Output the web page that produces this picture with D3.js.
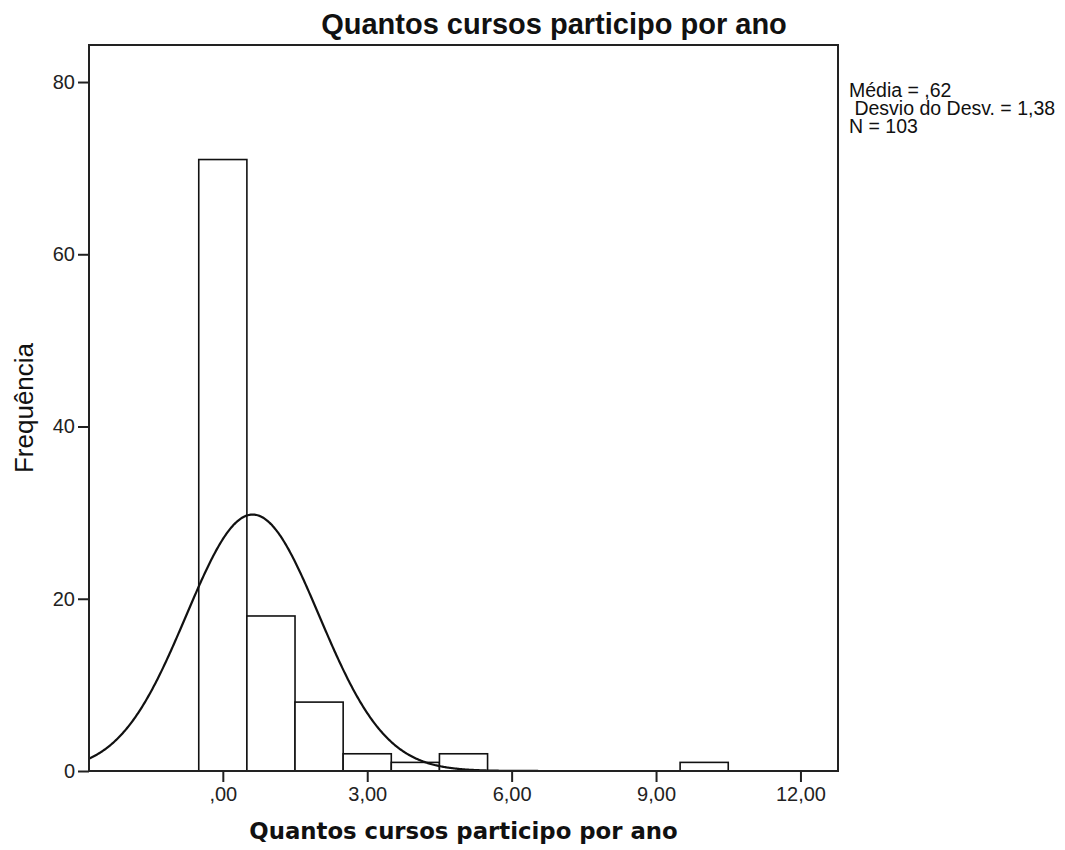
<!doctype html>
<html>
<head>
<style>
    body { margin: 0; background: #fff; }
    text { fill: #111; }
    .axis line { stroke: #222; stroke-width: 2px; }
    .axis text { font-family: "Liberation Sans", Arial, sans-serif; font-size: 20px; fill: #222; }
    .bar { fill: #fff; stroke: #111; stroke-width: 1.6px; }
</style>
<script src="https://d3js.org/d3.v7.min.js"></script>
</head>
<body>
<svg width="1065" height="850"></svg>
<script>

    // histogram data (bin centre -> frequency)
    var bins = [0, 1, 2, 3, 4, 5, 10];
    var counts = [71, 18, 8, 2, 1, 2, 1];
    var xTicks = [0, 3, 6, 9, 12];
    var yTicks = [0, 20, 40, 60, 80];
    var mean = 0.62, sd = 1.38, n = 103, binWidth = 1;
    var statLines = ["Média = ,62", " Desvio do Desv. = 1,38", "N = 103"];

    var svg = d3.select("svg"),
        pLeft = 89, pRight = 838, pTop = 45, pBottom = 771;

    var x = d3.scaleLinear().domain([-2.78, 12.78]).range([pLeft, pRight]);
    var y = d3.scaleLinear().domain([0, 84.3]).range([pBottom, pTop]);

    var fmt = function(d) { return d === 0 ? ",00" : d.toFixed(2).replace(".", ","); };

    svg.append("defs").append("clipPath").attr("id", "plot")
       .append("rect").attr("x", pLeft).attr("y", pTop)
       .attr("width", pRight - pLeft).attr("height", pBottom - pTop);

    // bars
    svg.selectAll(".bar")
       .data(bins)
       .enter().append("rect")
       .attr("class", "bar")
       .attr("x", function(d) { return x(d - binWidth / 2); })
       .attr("width", function(d) { return x(d + binWidth / 2) - x(d - binWidth / 2); })
       .attr("y", function(d, i) { return y(counts[i]); })
       .attr("height", function(d, i) { return y(0) - y(counts[i]); });

    // fitted normal curve
    var pts = d3.range(-2.78, 12.8, 0.02).map(function(v) {
        var z = (v - mean) / sd;
        return [v, n * binWidth / (sd * Math.sqrt(2 * Math.PI)) * Math.exp(-0.5 * z * z)];
    });
    svg.append("path")
       .datum(pts)
       .attr("clip-path", "url(#plot)")
       .attr("fill", "none")
       .attr("stroke", "#111")
       .attr("stroke-width", 2.2)
       .attr("d", d3.line().x(function(d) { return x(d[0]); }).y(function(d) { return y(d[1]); }));

    // frame
    svg.append("rect")
       .attr("x", pLeft).attr("y", pTop)
       .attr("width", pRight - pLeft).attr("height", pBottom - pTop)
       .attr("fill", "none").attr("stroke", "#222").attr("stroke-width", 2);

    svg.append("g")
       .attr("class", "axis")
       .attr("transform", "translate(0," + pBottom + ")")
       .call(d3.axisBottom(x).tickValues(xTicks).tickFormat(fmt).tickSize(11).tickPadding(5).tickSizeOuter(0))
       .select(".domain").remove();

    svg.append("g")
       .attr("class", "axis")
       .attr("transform", "translate(" + pLeft + ",0)")
       .call(d3.axisLeft(y).tickValues(yTicks).tickSize(11).tickPadding(3).tickSizeOuter(0))
       .select(".domain").remove();

    // titles
    svg.append("text")
       .attr("x", 554).attr("y", 34)
       .attr("text-anchor", "middle")
       .attr("font-family", "Liberation Sans, Arial, sans-serif")
       .attr("font-weight", "bold")
       .attr("font-size", "29px")
       .text("Quantos cursos participo por ano");

    svg.append("text")
       .attr("x", (pLeft + pRight) / 2).attr("y", 839)
       .attr("text-anchor", "middle")
       .attr("font-family", "DejaVu Sans, Verdana, sans-serif")
       .attr("font-weight", "bold")
       .attr("font-size", "22.8px")
       .text("Quantos cursos participo por ano");

    svg.append("text")
       .attr("transform", "translate(33,408) rotate(-90)")
       .attr("text-anchor", "middle")
       .attr("font-family", "Liberation Sans, Arial, sans-serif")
       .attr("font-size", "26px")
       .attr("fill", "#222")
       .text("Frequência");

    // stats box
    svg.append("g").selectAll("text")
       .data(statLines)
       .enter().append("text")
       .attr("x", 849)
       .attr("y", function(d, i) { return 97 + i * 18; })
       .attr("font-family", "Liberation Sans, Arial, sans-serif")
       .attr("font-size", "19.5px")
       .style("white-space", "pre")
       .text(function(d) { return d; });

</script>
</body>
</html>
